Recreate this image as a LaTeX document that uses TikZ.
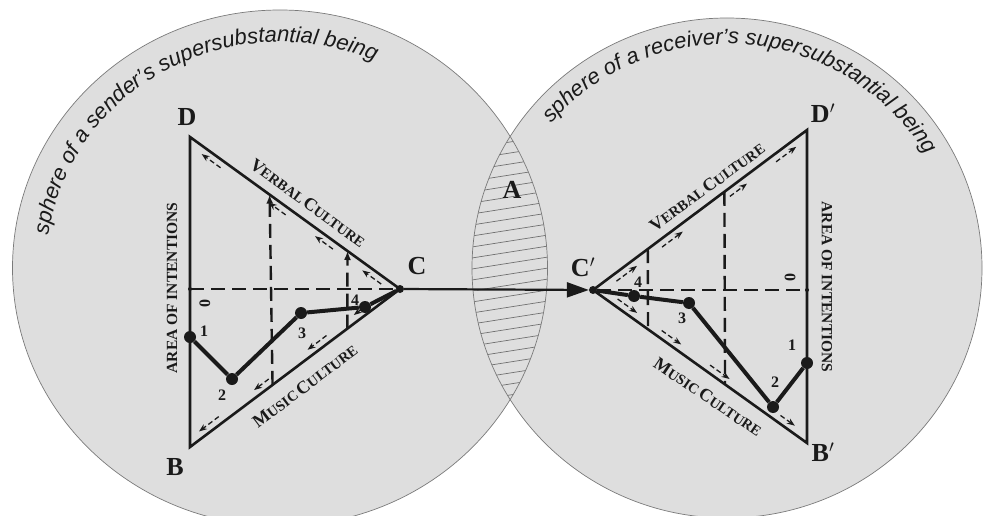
\documentclass[tikz,border=0pt]{standalone}
\usepackage{fontspec}
\setmainfont{Liberation Serif}
\newfontfamily\spherefont{Liberation Sans}
\usetikzlibrary{arrows.meta, positioning, calc, decorations.text}
\definecolor{spheregray}{HTML}{DEDEDE}
\definecolor{rimgray}{HTML}{7A7A7A}
\definecolor{hatchgray}{HTML}{707070}
\definecolor{ink}{HTML}{1A1A1A}
\newcommand{\scword}[2]{{\fontsize{18}{20}\selectfont #1}{\fontsize{14.5}{18}\selectfont #2}}

\begin{document}
\begin{tikzpicture}[x=1pt, y=1pt,
  side/.style={ink, line width=2.6pt},
  guide/.style={ink, line width=2.4pt, dash pattern=on 14pt off 7pt},
  route/.style={ink, line width=4pt, line join=round},
  flowarr/.style={ink, line width=1.3pt, dash pattern=on 5pt off 3pt,
                  -{Stealth[length=8pt,width=6pt]}},
  dot/.style={circle, fill=ink, inner sep=0pt, minimum size=12pt},
  vdot/.style={circle, fill=ink, inner sep=0pt, minimum size=8pt},
  vlabel/.style={font=\bfseries\fontsize{26}{28}\selectfont, text=ink, inner sep=0pt},
  numlab/.style={font=\bfseries\fontsize{16}{18}\selectfont, text=ink, inner sep=0pt},
  sidelab/.style={font=\bfseries, text=ink, inner sep=0pt},
  arealab/.style={font=\bfseries\fontsize{15.5}{18}\selectfont, text=ink, inner sep=0pt},
  hatch/.style={hatchgray, line width=0.7pt},
  rim/.style={rimgray, line width=0.7pt}
]
  \useasboundingbox (0,0) rectangle (984,-516);
  \clip (0,0) rectangle (984,-516);
  % Spheres
  \fill[spheregray] (280,-268) ellipse [x radius=267.5pt, y radius=258pt];
  \fill[spheregray] (727,-268) ellipse [x radius=255pt, y radius=250pt];
  \begin{scope}
    \clip (280,-268) ellipse [x radius=267.5pt, y radius=258pt];
    \clip (727,-268) ellipse [x radius=255pt, y radius=250pt];
    \foreach \k in {0,...,32}
      \draw[hatch] (440,-450+11*\k) -- ++(140,22);
  \end{scope}
  \draw[rim] (280,-268) ellipse [x radius=267.5pt, y radius=258pt];
  \draw[rim] (727,-268) ellipse [x radius=255pt, y radius=250pt];
  \path[decorate, decoration={text along path, text align=center,
      text={|\spherefont\itshape\fontsize{22}{26}\selectfont\color{ink}|sphere of a sender’s supersubstantial being}}]
    (280,-268) ++(179:234pt and 226pt) arc[start angle=179, end angle=59, x radius=234pt, y radius=226pt];
  \path[decorate, decoration={text along path, text align=center,
      text={|\spherefont\itshape\fontsize{22}{26}\selectfont\color{ink}|sphere of a receiver’s supersubstantial being}}]
    (727,-268) ++(146:230pt and 224pt) arc[start angle=146, end angle=24, x radius=230pt, y radius=224pt];
  \node[vlabel] (labA) at (512,-190) {A};

  % Sender triangle
  \coordinate (D) at (190,-137);
  \coordinate (B) at (190,-447);
  \node[vdot] (C) at (400,-289) {};
  \coordinate (O) at (D |- C);
  \coordinate (v1t) at ($(D)!.379!(C)$);
  \coordinate (v1b) at ($(C)!.607!(B)$);
  \coordinate (v2t) at ($(D)!.75!(C)$);
  \coordinate (v2b) at ($(C)!.251!(B)$);
  \draw[guide] (O) -- (C);
  \draw[guide, -{Latex[length=9pt,width=7pt]}] (v1b) -- (v1t);
  \draw[guide, -{Latex[length=9pt,width=7pt]}] (v2b) -- (v2t);
  \draw[side] (D) -- (C.center) -- (B) -- cycle;
  \fill[ink] (O) circle[radius=2pt];
  \foreach \a/\b in {.07/.16,.30/.385,.525/.605,.835/.925}
    \draw[flowarr] ($(C)!\a!(D)!7pt!90:(D)$) -- ($(C)!\b!(D)!7pt!90:(D)$);
  \foreach \a/\b in {.13/.20,.33/.42,.605/.675,.843/.937}
    \draw[flowarr] ($(C)!\a!(B)!7pt!-90:(B)$) -- ($(C)!\b!(B)!7pt!-90:(B)$);
  \node[dot] (p1) at (190,-337) {};
  \node[dot] (p2) at (232,-379) {};
  \node[dot] (p3) at (301,-313) {};
  \node[dot] (p4) at (365,-307) {};
  \draw[route] (p1) -- (p2) -- (p3) -- (p4) -- (C);
  \node[numlab] (n1) at (204,-331) {1};
  \node[numlab] (n2) at (222,-395) {2};
  \node[numlab] (n3) at (302,-333) {3};
  \node[numlab] (n4) at (355,-300) {4};
  \node[numlab, rotate=90] (n0) at (205,-303) {0};
  \node[vlabel] (labD) at (187,-117) {D};
  \node[vlabel] (labB) at (175,-467) {B};
  \node[vlabel] (labC) at (417,-266) {C};
  \node[arealab, rotate=90] (areaL) at (172,-288) {AREA OF INTENTIONS};
  \node[sidelab, rotate=-36] (verbL) at (308,-203) {\scword{V}{ERBAL} \scword{C}{ULTURE}};
  \node[sidelab, rotate=37] (musL) at (305,-386) {\scword{M}{USIC} \scword{C}{ULTURE}};

  % Receiver triangle
  \coordinate (Dp) at (807,-130);
  \coordinate (Bp) at (807,-443);
  \node[vdot] (Cp) at (593,-290) {};
  \coordinate (Op) at (Dp |- Cp);
  \coordinate (w1t) at ($(Cp)!.614!(Dp)$);
  \coordinate (w1b) at ($(Cp)!.617!(Bp)$);
  \coordinate (w2t) at ($(Cp)!.256!(Dp)$);
  \coordinate (w2b) at ($(Cp)!.257!(Bp)$);
  \draw[guide] (Cp) -- (Op);
  \draw[guide] (w1t) -- (w1b);
  \draw[guide] (w2t) -- (w2b);
  \draw[side] (Dp) -- (Cp.center) -- (Bp) -- cycle;
  \fill[ink] (Op) circle[radius=2pt];
  \foreach \a/\b in {.09/.186,.303/.40,.62/.70,.836/.93}
    \draw[flowarr] ($(Cp)!\a!(Dp)!7pt!-90:(Dp)$) -- ($(Cp)!\b!(Dp)!7pt!-90:(Dp)$);
  \foreach \a/\b in {.096/.187,.302/.393,.528/.619,.857/.924}
    \draw[flowarr] ($(Cp)!\a!(Bp)!7pt!90:(Bp)$) -- ($(Cp)!\b!(Bp)!7pt!90:(Bp)$);
  \node[dot] (q4) at (634,-296) {};
  \node[dot] (q3) at (689,-303) {};
  \node[dot] (q2) at (773,-407) {};
  \node[dot] (q1) at (807,-363) {};
  \draw[route] (Cp) -- (q4) -- (q3) -- (q2) -- (q1);
  \node[numlab] (m1) at (792,-345) {1};
  \node[numlab] (m2) at (775,-382) {2};
  \node[numlab] (m3) at (682,-318) {3};
  \node[numlab] (m4) at (638,-282) {4};
  \node[numlab, rotate=-90] (m0) at (790,-277) {0};
  \node[vlabel] (labDp) at (823,-113) {D$'$};
  \node[vlabel] (labBp) at (823,-452) {B$'$};
  \node[vlabel] (labCp) at (583,-267) {C$'$};
  \node[arealab, rotate=-90] (areaR) at (827,-287) {AREA OF INTENTIONS};
  \node[sidelab, rotate=36] (verbR) at (707,-187) {\scword{V}{ERBAL} \scword{C}{ULTURE}};
  \node[sidelab, rotate=-34] (musR) at (708,-397) {\scword{M}{USIC} \scword{C}{ULTURE}};

  % Message
  \draw[ink, line width=2.2pt, -{Triangle[length=22pt,width=15pt]}] (C) -- (Cp);
\end{tikzpicture}
\end{document}
